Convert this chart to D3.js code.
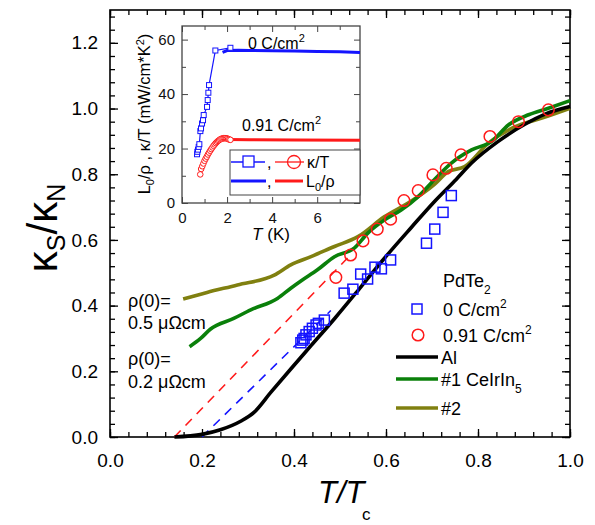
<!DOCTYPE html>
<html>
<head>
<meta charset="utf-8">
<script src="https://cdn.jsdelivr.net/npm/d3@7"></script>
<style>
  body { margin: 0; background: #fff; }
  text { font-family: Arial, "Liberation Sans", sans-serif; }
</style>
</head>
<body>
<svg id="chart" width="595" height="525"></svg>
<script>
// main panel: kappa_s / kappa_n vs T/Tc
const alX = [0.14, 0.2, 0.24, 0.284, 0.313, 0.349, 0.393, 0.437, 0.488, 0.546, 0.597, 0.655, 0.706, 0.753, 0.786, 0.844, 0.902, 0.946, 1.0];
const alY = [0.0, 0.008, 0.022, 0.048, 0.075, 0.135, 0.207, 0.278, 0.36, 0.458, 0.545, 0.638, 0.718, 0.785, 0.834, 0.9, 0.952, 0.983, 1.006];

const ce1X = [0.173, 0.197, 0.218, 0.269, 0.306, 0.364, 0.393, 0.415, 0.451, 0.488, 0.531, 0.56, 0.597, 0.633, 0.67, 0.706, 0.742, 0.786, 0.83, 0.866, 0.91, 0.953, 1.0];
const ce1Y = [0.275, 0.30, 0.328, 0.361, 0.387, 0.422, 0.453, 0.475, 0.509, 0.549, 0.575, 0.62, 0.661, 0.691, 0.732, 0.785, 0.834, 0.874, 0.9, 0.95, 0.981, 1.001, 1.024];

const ce2X = [0.159, 0.211, 0.277, 0.357, 0.393, 0.437, 0.488, 0.539, 0.597, 0.648, 0.706, 0.735, 0.771, 0.822, 0.881, 0.939, 1.0];
const ce2Y = [0.42, 0.44, 0.463, 0.493, 0.524, 0.549, 0.58, 0.61, 0.671, 0.712, 0.77, 0.808, 0.823, 0.894, 0.945, 0.971, 1.001];

const circX = [0.491, 0.523, 0.55, 0.581, 0.61, 0.639, 0.67, 0.702, 0.731, 0.763, 0.826, 0.888, 0.953];
const circY = [0.486, 0.554, 0.597, 0.633, 0.663, 0.72, 0.75, 0.798, 0.818, 0.859, 0.915, 0.96, 0.996];

const sqX = [0.415, 0.419, 0.422, 0.426, 0.433, 0.44, 0.448, 0.453, 0.466, 0.509, 0.528, 0.545, 0.56, 0.576, 0.59, 0.61, 0.688, 0.706, 0.724, 0.742];
const sqY = [0.287, 0.295, 0.30, 0.311, 0.321, 0.331, 0.341, 0.346, 0.356, 0.438, 0.45, 0.496, 0.481, 0.517, 0.512, 0.539, 0.59, 0.633, 0.684, 0.735];

// extrapolations (dashed)
const redFitX = [0.14, 0.52];
const redFitY = [0.0, 0.55];
const blueFitX = [0.2, 0.48];
const blueFitY = [0.0, 0.385];

const xTicks = [0, 0.2, 0.4, 0.6, 0.8, 1.0];
const yTicks = [0, 0.2, 0.4, 0.6, 0.8, 1.0, 1.2];

// inset: L0/rho and kappa/T vs T
const inSqT = [0.667, 0.681, 0.711, 0.741, 0.77, 0.815, 0.844, 0.889, 0.933, 0.963, 1.111, 1.141, 1.17, 1.2, 1.481, 2.148];
const inSqV = [17.9, 18.8, 19.6, 20.6, 21.6, 26.4, 27.4, 29.2, 30.4, 32.3, 35.3, 37.8, 40.5, 43.3, 56, 57];
const inCircT = [0.81, 0.85, 0.9, 0.95, 1.0, 1.05, 1.1, 1.15, 1.2, 1.25, 1.3, 1.35, 1.4, 1.45, 1.5, 1.55, 1.6, 1.65, 1.7, 1.75, 1.8, 1.85, 1.9, 1.95, 2.0, 2.05, 2.1, 2.15];
const inCircV = [10.5, 12.5, 13.5, 14.5, 15.5, 16.3, 17.0, 17.8, 18.5, 19.2, 19.8, 20.4, 21.0, 21.5, 22.0, 22.4, 22.8, 23.1, 23.4, 23.6, 23.7, 23.8, 23.8, 23.8, 23.7, 23.5, 23.3, 23.2];
const inL0BlueT = [1.8, 2.0, 2.5, 3, 4, 5, 6, 7, 7.9];
const inL0BlueV = [55.3, 56, 56.1, 56, 55.9, 55.8, 55.6, 55.5, 55.3];
const inL0RedT = [2.1, 3, 5, 7.9];
const inL0RedV = [23.3, 23.2, 23.1, 23.0];

const BLUE = "#1414ff", RED = "#ff1a1a", GREEN = "#0a800a", OLIVE = "#808010";

const svg = d3.select("#chart");
const zip = (a, b) => a.map((v, i) => [v, b[i]]);

// ---------- main axes ----------
const x = d3.scaleLinear().domain([0, 1]).range([110, 570]);
const y = d3.scaleLinear().domain([0, 1.3]).range([437, 10]);

const minorX = d3.range(0, 1.0001, 0.04);
const minorY = d3.range(0, 1.3001, 0.04);

function frameAxes(g, xs, ys, xMaj, xMin, yMaj, yMin, big, small, padX, padY, fmt, fs) {
  const [x0, x1] = xs.range(), [y0, y1] = ys.range();
  g.append("g").attr("transform", `translate(0,${y0})`)
    .call(d3.axisBottom(xs).tickValues(xMin).tickSize(-small).tickFormat(""));
  g.append("g").attr("transform", `translate(0,${y0})`)
    .call(d3.axisBottom(xs).tickValues(xMaj).tickSize(-big).tickPadding(padX).tickFormat(fmt))
    .selectAll("text").style("font-size", fs + "px");
  g.append("g").attr("transform", `translate(0,${y1})`)
    .call(d3.axisTop(xs).tickValues(xMin).tickSize(-small).tickFormat(""));
  g.append("g").attr("transform", `translate(0,${y1})`)
    .call(d3.axisTop(xs).tickValues(xMaj).tickSize(-big).tickFormat(""));
  g.append("g").attr("transform", `translate(${x0},0)`)
    .call(d3.axisLeft(ys).tickValues(yMin).tickSize(-small).tickFormat(""));
  g.append("g").attr("transform", `translate(${x0},0)`)
    .call(d3.axisLeft(ys).tickValues(yMaj).tickSize(-big).tickPadding(padY).tickFormat(fmt))
    .selectAll("text").style("font-size", fs + "px");
  g.append("g").attr("transform", `translate(${x1},0)`)
    .call(d3.axisRight(ys).tickValues(yMin).tickSize(-small).tickFormat(""));
  g.append("g").attr("transform", `translate(${x1},0)`)
    .call(d3.axisRight(ys).tickValues(yMaj).tickSize(-big).tickFormat(""));
  g.selectAll(".domain").remove();
  g.append("rect").attr("class", "frame").attr("x", x0).attr("y", y1)
    .attr("width", x1 - x0).attr("height", y0 - y1)
    .attr("fill", "none").attr("stroke", "#000").attr("stroke-width", 1.6);
}

const mainAx = svg.append("g");
frameAxes(mainAx, x, y, xTicks, minorX, yTicks, minorY, 8, 5, 17, 12, d3.format(".1f"), 19);
mainAx.selectAll(".tick line").attr("stroke-width", 1.3);
mainAx.selectAll(".tick text").attr("fill", "#000");

const line = d3.line().x(d => x(d[0])).y(d => y(d[1]));

svg.append("path").datum(zip(redFitX, redFitY)).attr("d", line)
  .attr("fill", "none").attr("stroke", RED).attr("stroke-width", 1.6).attr("stroke-dasharray", "9,7");
svg.append("path").datum(zip(blueFitX, blueFitY)).attr("d", line)
  .attr("fill", "none").attr("stroke", BLUE).attr("stroke-width", 1.6).attr("stroke-dasharray", "9,7");

const smooth = d3.line().x(d => x(d[0])).y(d => y(d[1])).curve(d3.curveMonotoneX);
[[ce2X, ce2Y, OLIVE], [ce1X, ce1Y, GREEN], [alX, alY, "#000"]].forEach(([xs, ys, c]) => {
  svg.append("path").datum(zip(xs, ys)).attr("d", smooth)
    .attr("fill", "none").attr("stroke", c).attr("stroke-width", 3.6).attr("stroke-linejoin", "round");
});

svg.append("g").selectAll("rect").data(zip(sqX, sqY)).join("rect")
  .attr("x", d => x(d[0]) - 5).attr("y", d => y(d[1]) - 5)
  .attr("width", 10).attr("height", 10)
  .attr("fill", "none").attr("stroke", BLUE).attr("stroke-width", 1.5);

svg.append("g").selectAll("circle").data(zip(circX, circY)).join("circle")
  .attr("cx", d => x(d[0])).attr("cy", d => y(d[1])).attr("r", 5.8)
  .attr("fill", "none").attr("stroke", RED).attr("stroke-width", 1.5);

// axis titles
const yl = svg.append("text").attr("transform", "translate(57,228) rotate(-90)")
  .attr("text-anchor", "middle").style("font-size", "42px");
yl.append("tspan").text("κ");
yl.append("tspan").attr("baseline-shift", "-30%").style("font-size", "25px").text("S");
yl.append("tspan").text("/κ");
yl.append("tspan").attr("baseline-shift", "-30%").style("font-size", "25px").text("N");

svg.append("text").attr("x", 318).attr("y", 503)
  .style("font-size", "31px").style("font-style", "italic").text("T/T");
svg.append("text").attr("x", 362).attr("y", 520).style("font-size", "17px").text("c");

// annotations
const ann = [["ρ(0)=", 128, 307], ["0.5 μΩcm", 128, 329], ["ρ(0)=", 128, 365], ["0.2 μΩcm", 128, 388]];
svg.append("g").selectAll("text").data(ann).join("text")
  .attr("x", d => d[1]).attr("y", d => d[2]).style("font-size", "18px").text(d => d[0]);

// legend
const lg = svg.append("g");
const sup = (t, dy) => { t.append("tspan").attr("dy", dy).style("font-size", "12px").text("2"); };
const pd = lg.append("text").attr("x", 443).attr("y", 287).style("font-size", "18px");
pd.append("tspan").text("PdTe");
pd.append("tspan").attr("dy", 7).style("font-size", "12px").text("2");
lg.append("rect").attr("x", 412).attr("y", 304).attr("width", 10).attr("height", 10)
  .attr("fill", "none").attr("stroke", BLUE).attr("stroke-width", 1.5);
const l1 = lg.append("text").attr("x", 443).attr("y", 316).style("font-size", "18px");
l1.append("tspan").text("0 C/cm"); sup(l1, -8);
lg.append("circle").attr("cx", 418).attr("cy", 335).attr("r", 5.8)
  .attr("fill", "none").attr("stroke", RED).attr("stroke-width", 1.5);
const l2 = lg.append("text").attr("x", 443).attr("y", 342).style("font-size", "18px");
l2.append("tspan").text("0.91 C/cm"); sup(l2, -8);
[["#000", 357, "Al"], [GREEN, 379, "#1 CeIrIn"], [OLIVE, 408, "#2"]].forEach(([c, yy, t]) => {
  lg.append("line").attr("x1", 396).attr("x2", 438).attr("y1", yy).attr("y2", yy)
    .attr("stroke", c).attr("stroke-width", 3.6);
  const tx = lg.append("text").attr("x", 441).attr("y", yy + 7).style("font-size", "18px").text(t);
  if (t.startsWith("#1")) tx.append("tspan").attr("dy", 7).style("font-size", "12px").text("5");
});

// ---------- inset ----------
const ix = d3.scaleLinear().domain([0, 7.9]).range([182, 360]);
const iy = d3.scaleLinear().domain([0, 65]).range([203, 26]);
const inAx = svg.append("g");
inAx.append("rect").attr("x", 182).attr("y", 26).attr("width", 178).attr("height", 177).attr("fill", "#fff");
frameAxes(inAx, ix, iy, [0, 2, 4, 6], [1, 3, 5, 7], [0, 20, 40, 60], [10, 30, 50], 6, 4, 9, 7, d3.format("d"), 15);
inAx.select(".frame").attr("stroke", "#444").attr("stroke-width", 1.3);
inAx.selectAll(".tick line").attr("stroke", "#444");
inAx.selectAll(".tick text").attr("fill", "#111");

const iline = d3.line().x(d => ix(d[0])).y(d => iy(d[1]));
svg.append("path").datum(zip(inL0BlueT, inL0BlueV)).attr("d", iline)
  .attr("fill", "none").attr("stroke", BLUE).attr("stroke-width", 3);
svg.append("path").datum(zip(inL0RedT, inL0RedV)).attr("d", iline)
  .attr("fill", "none").attr("stroke", RED).attr("stroke-width", 3);
svg.append("path").datum(zip(inSqT, inSqV)).attr("d", iline)
  .attr("fill", "none").attr("stroke", BLUE).attr("stroke-width", 1.2);
svg.append("path").datum(zip(inCircT, inCircV)).attr("d", iline)
  .attr("fill", "none").attr("stroke", RED).attr("stroke-width", 1.2);
svg.append("g").selectAll("rect").data(zip(inSqT, inSqV)).join("rect")
  .attr("x", d => ix(d[0]) - 2.5).attr("y", d => iy(d[1]) - 2.5).attr("width", 5).attr("height", 5)
  .attr("fill", "#fff").attr("stroke", BLUE).attr("stroke-width", 1);
svg.append("g").selectAll("circle").data(zip(inCircT, inCircV)).join("circle")
  .attr("cx", d => ix(d[0])).attr("cy", d => iy(d[1])).attr("r", 2.8)
  .attr("fill", "#fff").attr("stroke", RED).attr("stroke-width", 1);

const t0 = svg.append("text").attr("x", 248).attr("y", 49).style("font-size", "16px");
t0.append("tspan").text("0 C/cm");
t0.append("tspan").attr("dy", -7).style("font-size", "11px").text("2");
const t1 = svg.append("text").attr("x", 242).attr("y", 131).style("font-size", "16px");
t1.append("tspan").text("0.91 C/cm");
t1.append("tspan").attr("dy", -7).style("font-size", "11px").text("2");

// inset legend
const il = svg.append("g");
il.append("rect").attr("x", 230).attr("y", 150).attr("width", 130).attr("height", 45)
  .attr("fill", "#fff").attr("stroke", "#444").attr("stroke-width", 1);
il.append("line").attr("x1", 231).attr("x2", 265).attr("y1", 162).attr("y2", 162).attr("stroke", BLUE).attr("stroke-width", 1.3);
il.append("rect").attr("x", 243).attr("y", 156).attr("width", 11).attr("height", 11)
  .attr("fill", "#fff").attr("stroke", BLUE).attr("stroke-width", 1.3);
il.append("line").attr("x1", 275).attr("x2", 304).attr("y1", 162).attr("y2", 162).attr("stroke", RED).attr("stroke-width", 1.3);
il.append("circle").attr("cx", 294).attr("cy", 162).attr("r", 6.5)
  .attr("fill", "none").attr("stroke", RED).attr("stroke-width", 1.3);
il.append("text").attr("x", 267).attr("y", 168).style("font-size", "16px").text(",");
il.append("text").attr("x", 307).attr("y", 168).style("font-size", "16px").text("κ/T");
il.append("line").attr("x1", 231).attr("x2", 266).attr("y1", 181).attr("y2", 181).attr("stroke", BLUE).attr("stroke-width", 3);
il.append("line").attr("x1", 275).attr("x2", 303).attr("y1", 181).attr("y2", 181).attr("stroke", RED).attr("stroke-width", 3);
il.append("text").attr("x", 267).attr("y", 187).style("font-size", "16px").text(",");
const ilt = il.append("text").attr("x", 306).attr("y", 187).style("font-size", "16px");
ilt.append("tspan").text("L");
ilt.append("tspan").attr("dy", 4).style("font-size", "11px").text("0");
ilt.append("tspan").attr("dy", -4).text("/ρ");

// inset axis titles
const iyl = svg.append("text").attr("transform", "translate(150,114) rotate(-90)")
  .attr("text-anchor", "middle").style("font-size", "16.5px");
iyl.append("tspan").text("L");
iyl.append("tspan").attr("dy", 4).style("font-size", "11px").text("0");
iyl.append("tspan").attr("dy", -4).text("/ρ , κ/T (mW/cm*K");
iyl.append("tspan").attr("dy", -6).style("font-size", "11px").text("2");
iyl.append("tspan").attr("dy", 6).text(")");

const ixl = svg.append("text").attr("x", 271).attr("y", 240).attr("text-anchor", "middle").style("font-size", "17px");
ixl.append("tspan").style("font-style", "italic").text("T");
ixl.append("tspan").text(" (K)");
</script>
</body>
</html>
